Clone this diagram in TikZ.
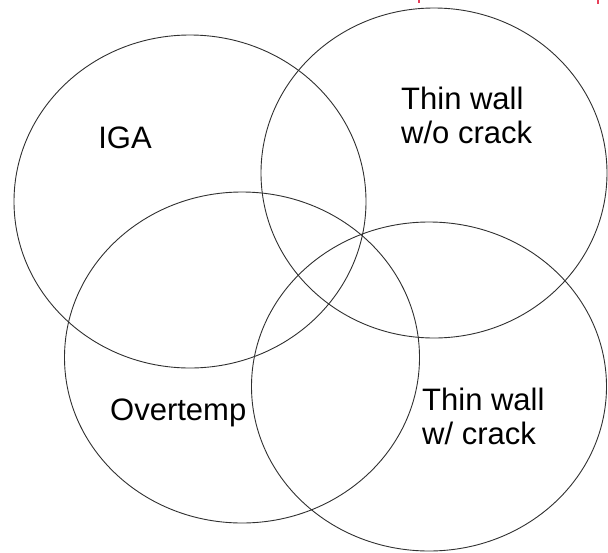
\documentclass[tikz,border=0pt]{standalone}
\usepackage{fontspec}
\setmainfont{Liberation Sans}
\usetikzlibrary{shapes.geometric}
\definecolor{vennline}{HTML}{303030}
\definecolor{cutred}{HTML}{E8405A}

\begin{document}
\begin{tikzpicture}[x=1pt,y=-1pt,
    ring/.style={draw=vennline, line width=0.9pt, ellipse, inner sep=0pt},
    lbl/.style={font=\fontsize{31}{34}\selectfont, align=left, inner sep=0pt}]
  \useasboundingbox (0,0) rectangle (608,552);

  % the four sets
  \node[ring, minimum width=352pt, minimum height=333pt] (iga)     at (190,201.5) {};
  \node[ring, minimum width=346pt, minimum height=330pt] (nocrack) at (434,173)   {};
  \node[ring, minimum width=355pt, minimum height=331pt] (overt)   at (242,357.5) {};
  \node[ring, minimum width=355pt, minimum height=329pt] (crack)   at (429,386.5) {};

  % labels
  \node[lbl] (igatxt) at (125,137.5) {IGA};
  \node[lbl, anchor=north west] (nocracktxt) at (401,87) {Thin wall\\w/o crack};
  \node[lbl, anchor=base west] (overttxt) at (110,420) {Overtemp};
  \node[lbl, anchor=north west] (cracktxt) at (422,388) {Thin wall\\w/ crack};

  % cut-off marks at the top edge
  \draw[cutred, line width=1.2pt] (419,0) -- (419,3);
  \draw[cutred, line width=1.2pt] (598,0) -- (598,4);
\end{tikzpicture}
\end{document}
